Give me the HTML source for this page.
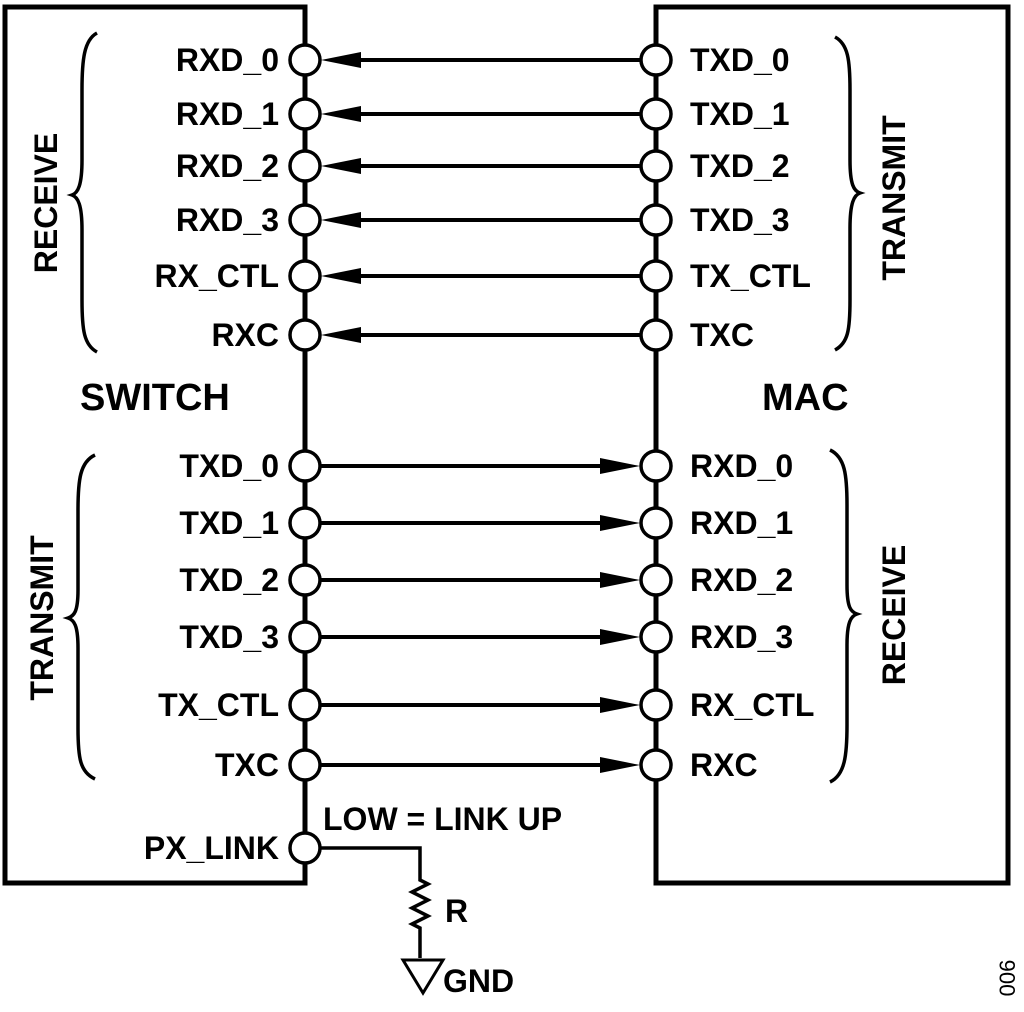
<!DOCTYPE html>
<html><head><style>
html,body{margin:0;padding:0;background:#fff;}
svg text{font-family:"Liberation Sans",Arial,sans-serif;font-weight:bold;fill:#000;}
</style></head><body>
<svg width="1024" height="1007" viewBox="0 0 1024 1007" xmlns="http://www.w3.org/2000/svg">
<g fill="none" stroke="#000" stroke-width="5">
<rect x="5" y="7" width="300" height="876"/>
<rect x="656" y="7" width="352" height="876"/>
</g>
<g fill="none" stroke="#000" stroke-width="3.5">
<path d="M320,848 H420 V880 l8,4 l-16,8 l16,8 l-16,8 l16,8 l-16,8 l8,4 V958"/>
<path d="M403,960 H443 L423,993 Z" stroke-width="3"/>
<path d="M97,33 C84,40 82,60 82,90 V160 C82,185 78,193 72,195 C78,197 82,205 82,230 V300 C82,330 84,345 97,352"/>
<path d="M95,455 C80,462 78,480 78,510 V590 C78,612 74,616 68,618 C74,620 78,625 78,648 V728 C78,758 80,772 95,779"/>
<path d="M835,37 C848,44 850,60 850,90 V160 C850,185 854,191 860,193 C854,195 850,203 850,228 V300 C850,330 848,343 835,350"/>
<path d="M830,450 C845,457 847,475 847,505 V585 C847,608 851,612 857,614 C851,616 847,622 847,645 V725 C847,755 845,775 830,782"/>
</g>
<g fill="#fff" stroke="#000" stroke-width="3.5">
<circle cx="305" cy="60" r="15"/><circle cx="305" cy="114" r="15"/><circle cx="305" cy="166" r="15"/><circle cx="305" cy="220" r="15"/><circle cx="305" cy="276" r="15"/><circle cx="305" cy="335" r="15"/>
<circle cx="305" cy="466" r="15"/><circle cx="305" cy="523" r="15"/><circle cx="305" cy="580" r="15"/><circle cx="305" cy="637" r="15"/><circle cx="305" cy="705" r="15"/><circle cx="305" cy="765" r="15"/><circle cx="305" cy="848" r="15"/>
<circle cx="656" cy="60" r="15"/><circle cx="656" cy="114" r="15"/><circle cx="656" cy="166" r="15"/><circle cx="656" cy="220" r="15"/><circle cx="656" cy="276" r="15"/><circle cx="656" cy="335" r="15"/>
<circle cx="656" cy="466" r="15"/><circle cx="656" cy="523" r="15"/><circle cx="656" cy="580" r="15"/><circle cx="656" cy="637" r="15"/><circle cx="656" cy="705" r="15"/><circle cx="656" cy="765" r="15"/>
</g>
<g stroke="#000" stroke-width="4">
<line x1="355" y1="60" x2="641" y2="60"/><line x1="355" y1="114" x2="641" y2="114"/><line x1="355" y1="166" x2="641" y2="166"/><line x1="355" y1="220" x2="641" y2="220"/><line x1="355" y1="276" x2="641" y2="276"/><line x1="355" y1="335" x2="641" y2="335"/>
<line x1="320" y1="466" x2="606" y2="466"/><line x1="320" y1="523" x2="606" y2="523"/><line x1="320" y1="580" x2="606" y2="580"/><line x1="320" y1="637" x2="606" y2="637"/><line x1="320" y1="705" x2="606" y2="705"/><line x1="320" y1="765" x2="606" y2="765"/>
</g>
<g fill="#000">
<path d="M321,60 l40,-8 v16z"/><path d="M321,114 l40,-8 v16z"/><path d="M321,166 l40,-8 v16z"/><path d="M321,220 l40,-8 v16z"/><path d="M321,276 l40,-8 v16z"/><path d="M321,335 l40,-8 v16z"/>
<path d="M640,466 l-40,-8 v16z"/><path d="M640,523 l-40,-8 v16z"/><path d="M640,580 l-40,-8 v16z"/><path d="M640,637 l-40,-8 v16z"/><path d="M640,705 l-40,-8 v16z"/><path d="M640,765 l-40,-8 v16z"/>
</g>
<g font-size="32" text-anchor="end">
<text x="279" y="71">RXD_0</text><text x="279" y="125">RXD_1</text><text x="279" y="177">RXD_2</text><text x="279" y="231">RXD_3</text><text x="279" y="287">RX_CTL</text><text x="279" y="346">RXC</text>
<text x="279" y="477">TXD_0</text><text x="279" y="534">TXD_1</text><text x="279" y="591">TXD_2</text><text x="279" y="648">TXD_3</text><text x="279" y="716">TX_CTL</text><text x="279" y="776">TXC</text><text x="279" y="859">PX_LINK</text>
</g>
<g font-size="32">
<text x="690" y="71">TXD_0</text><text x="690" y="125">TXD_1</text><text x="690" y="177">TXD_2</text><text x="690" y="231">TXD_3</text><text x="690" y="287">TX_CTL</text><text x="690" y="346">TXC</text>
<text x="690" y="477">RXD_0</text><text x="690" y="534">RXD_1</text><text x="690" y="591">RXD_2</text><text x="690" y="648">RXD_3</text><text x="690" y="716">RX_CTL</text><text x="690" y="776">RXC</text>
<text x="323" y="830">LOW = LINK UP</text>
<text x="445" y="922">R</text>
<text x="443" y="992">GND</text>
</g>
<g font-size="38">
<text x="80" y="410">SWITCH</text>
<text x="762" y="410">MAC</text>
</g>
<g font-size="32" text-anchor="middle">
<text transform="translate(57,203) rotate(-90)">RECEIVE</text>
<text transform="translate(53,618) rotate(-90)">TRANSMIT</text>
<text transform="translate(905,198) rotate(-90)">TRANSMIT</text>
<text transform="translate(905,615) rotate(-90)">RECEIVE</text>
</g>
<text transform="translate(1015,978) rotate(-90)" font-size="22" text-anchor="middle" style="font-weight:normal">006</text>
</svg>
</body></html>
